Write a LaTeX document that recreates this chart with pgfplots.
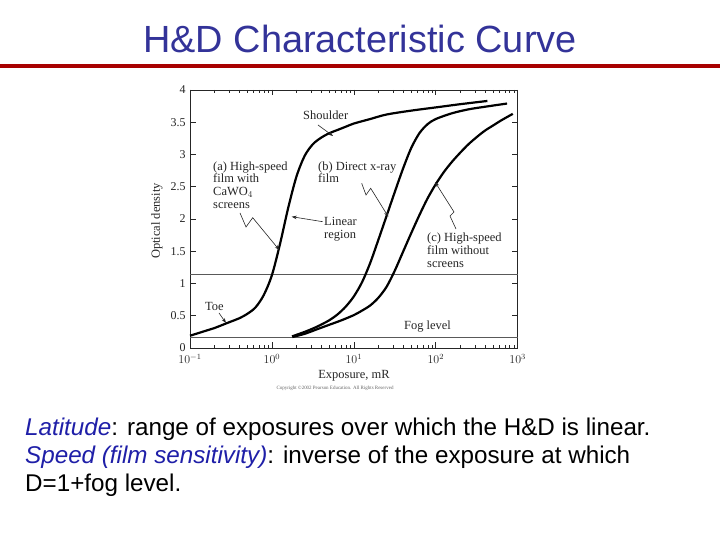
\documentclass[border=0pt]{standalone}
\usepackage{pgfplots}
\pgfplotsset{compat=1.18}
\usepackage{fontspec}
\setmainfont{Liberation Sans}
\newfontfamily\serif{Liberation Serif}
\usetikzlibrary{arrows.meta}
\definecolor{titleblue}{HTML}{333399}
\definecolor{capblue}{HTML}{1F1FA8}
\definecolor{barred}{HTML}{A80000}
\begin{document}
\begin{tikzpicture}[x=1bp,y=1bp]
\path[use as bounding box, fill=white] (0,0) rectangle (720,540);
% title
\node[anchor=base, font=\fontsize{38}{40}\selectfont, text=titleblue, inner sep=0] at (360,487) {H\&D Characteristic Curve};
\fill[barred] (0,472) rectangle (720,476);
\begin{axis}[
  at={(190bp,192bp)}, anchor=south west,
  scale only axis, width=327.7bp, height=258bp,
  xmode=log, xmin=0.1, xmax=1000, ymin=0, ymax=4,
  ytick={0,0.5,1,1.5,2,2.5,3,3.5,4},
  yticklabels={0,0.5,1,1.5,2,2.5,3,3.5,4},
  xtick={0.1,1,10,100,1000},
  tick pos=both, tick align=inside,
  major tick length=5.5bp, minor tick length=3bp,
  axis line style={black!85, line width=0.8bp},
  every tick/.style={black!85, line width=0.6bp},
  /pgf/number format/assume math mode=true,
  yticklabel style={font=\serif\fontsize{12}{12}\selectfont, color=black!85, xshift=-1bp},
  xticklabel style={font=\fontsize{12}{12}\selectfont, color=black!85, yshift=-3bp},
  clip=false,
]
% reference lines: 1 + fog and fog level
\addplot[black!65, line width=0.6bp] coordinates {(0.1,1.14) (1000,1.14)};
\addplot[black!65, line width=0.6bp] coordinates {(0.1,0.165) (1000,0.165)};
% (a) high-speed film with CaWO4 screens
\addplot[black, line width=2.2bp, smooth, tension=0.5] coordinates {
(0.1,0.19) (0.12589,0.23) (0.15849,0.27) (0.19953,0.31) (0.25119,0.36) (0.31623,0.41)
(0.39811,0.46) (0.50119,0.53) (0.63096,0.63) (0.79433,0.82) (1,1.13) (1.2589,1.62)
(1.5849,2.18) (1.9953,2.66) (2.5119,2.98) (3.1623,3.16) (3.9811,3.26) (5.0119,3.33)
(6.3096,3.38) (7.9433,3.43) (10,3.48) (15.849,3.55) (25.119,3.62) (50.119,3.68)
(100,3.73) (199.53,3.78) (426.58,3.83)};
% (b) direct x-ray film
\addplot[black, line width=2.2bp, smooth, tension=0.5] coordinates {
(1.7579,0.18) (2.5119,0.25) (3.5481,0.33) (5.0119,0.43) (6.3096,0.52) (7.9433,0.64)
(10,0.80) (12.589,1.02) (15.849,1.32) (19.953,1.68) (25.119,2.05) (31.623,2.42)
(39.811,2.78) (50.119,3.10) (63.096,3.33) (79.433,3.47) (100,3.55) (158.49,3.64)
(251.19,3.70) (398.11,3.74) (741.31,3.79)};
% (c) high-speed film without screens
\addplot[black, line width=2.2bp, smooth, tension=0.5] coordinates {
(1.7783,0.17) (2.5119,0.22) (3.5481,0.29) (5.0119,0.36) (7.0795,0.43) (10,0.51)
(12.589,0.58) (15.849,0.66) (19.953,0.78) (25.119,0.95) (31.623,1.20) (39.811,1.49)
(50.119,1.78) (63.096,2.06) (79.433,2.32) (100,2.54) (125.89,2.73) (158.49,2.89)
(199.53,3.03) (251.19,3.16) (316.23,3.27) (398.11,3.37) (501.19,3.45) (630.96,3.53)
(870.96,3.63)};
\end{axis}
% axis labels
\node[font=\serif\fontsize{12.5}{12.5}\selectfont, rotate=90, color=black!85] at (157,319) {Optical density};
\node[font=\serif\fontsize{12.5}{12.5}\selectfont, color=black!85] at (354,164) {Exposure, mR};
\node[font=\serif\fontsize{5}{5}\selectfont, color=black!60] at (335,152) {Copyright ©2002 Pearson Education. All Rights Reserved};
% annotations
\begin{scope}[every node/.style={font=\serif\fontsize{12.5}{12.5}\selectfont, anchor=base west, inner sep=0, color=black!85},
  arr/.style={black!85, line width=0.6bp, -{Stealth[length=5bp,width=3.6bp]}}]
\node at (303,420) {Shoulder};
\draw[arr] (318,415) -- (333,404);
\node at (213,369) {(a) High-speed};
\node at (213,357) {film with};
\node at (213,344) {CaWO$_4$};
\node at (213,331) {screens};
\draw[arr] (240,327) -- (246,313) -- (252.7,322.3) -- (279.3,290);
\node at (324,314) {Linear};
\node at (324,301) {region};
\draw[arr] (322.7,318.3) -- (291.7,323.3);
\node at (318,369) {(b) Direct x-ray};
\node at (318,357) {film};
\draw[arr] (361.7,356.7) -- (366,345) -- (370.7,351.7) -- (388.3,323.3);
\node at (427,298) {(c) High-speed};
\node at (427,285) {film without};
\node at (427,272) {screens};
\draw[arr] (456,311) -- (450,324) -- (454,328) -- (435,358);
\node at (205,229) {Toe};
\draw[arr] (219,227) -- (226,217);
\node at (404,210) {Fog level};
\end{scope}
% caption
\begin{scope}[every node/.style={font=\fontsize{24.3}{28}\selectfont, anchor=base west, inner sep=0}]
\node at (25,104) {\textcolor{capblue}{\itshape Latitude}: range of exposures over which the H\&D is linear.};
\node at (25,76) {\textcolor{capblue}{\itshape Speed (film sensitivity)}: inverse of the exposure at which};
\node at (25,48) {D=1+fog level.};
\end{scope}
\end{tikzpicture}
\end{document}
